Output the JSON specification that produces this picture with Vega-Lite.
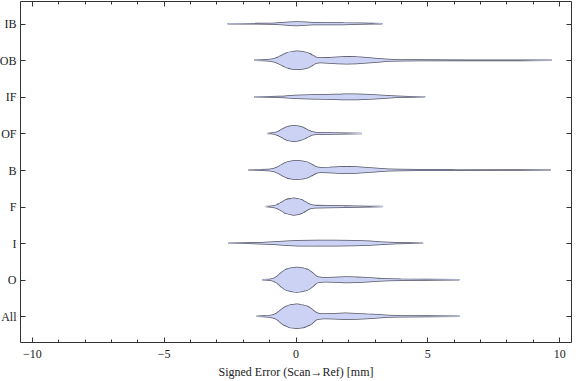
{
  "$schema": "https://vega.github.io/schema/vega-lite/v6.json",
  "width": 551,
  "height": 341,
  "autosize": {"type": "none"},
  "padding": {"left": 20, "top": 1, "right": 5, "bottom": 39},
  "background": "white",
  "data": {"values": [
    {"g":"IB","x":-2.56,"d":0},{"g":"IB","x":-1.5,"d":0.01},{"g":"IB","x":-0.9,"d":0.03},{"g":"IB","x":-0.5,"d":0.09},{"g":"IB","x":-0.2,"d":0.15},{"g":"IB","x":0.05,"d":0.18},{"g":"IB","x":0.35,"d":0.14},{"g":"IB","x":0.7,"d":0.09},{"g":"IB","x":1.2,"d":0.08},{"g":"IB","x":1.8,"d":0.07},{"g":"IB","x":2.4,"d":0.04},{"g":"IB","x":2.9,"d":0.015},{"g":"IB","x":3.28,"d":0},
    {"g":"OB","x":-1.55,"d":0},{"g":"OB","x":-1.2,"d":0.03},{"g":"OB","x":-0.95,"d":0.08},{"g":"OB","x":-0.85,"d":0.13},{"g":"OB","x":-0.75,"d":0.2},{"g":"OB","x":-0.65,"d":0.29},{"g":"OB","x":-0.55,"d":0.4},{"g":"OB","x":-0.45,"d":0.52},{"g":"OB","x":-0.35,"d":0.65},{"g":"OB","x":-0.25,"d":0.76},{"g":"OB","x":-0.15,"d":0.84},{"g":"OB","x":-0.05,"d":0.89},{"g":"OB","x":0.09,"d":0.9},{"g":"OB","x":0.25,"d":0.86},{"g":"OB","x":0.35,"d":0.8},{"g":"OB","x":0.45,"d":0.69},{"g":"OB","x":0.55,"d":0.56},{"g":"OB","x":0.65,"d":0.42},{"g":"OB","x":0.75,"d":0.3},{"g":"OB","x":0.85,"d":0.25},{"g":"OB","x":0.95,"d":0.23},{"g":"OB","x":1.3,"d":0.26},{"g":"OB","x":1.6,"d":0.31},{"g":"OB","x":1.95,"d":0.35},{"g":"OB","x":2.3,"d":0.32},{"g":"OB","x":2.7,"d":0.25},{"g":"OB","x":3.1,"d":0.16},{"g":"OB","x":3.5,"d":0.08},{"g":"OB","x":3.9,"d":0.04},{"g":"OB","x":4.7,"d":0.025},{"g":"OB","x":6.5,"d":0.015},{"g":"OB","x":8.5,"d":0.01},{"g":"OB","x":9.7,"d":0},
    {"g":"IF","x":-1.55,"d":0},{"g":"IF","x":-0.9,"d":0.015},{"g":"IF","x":-0.4,"d":0.06},{"g":"IF","x":0,"d":0.13},{"g":"IF","x":0.6,"d":0.18},{"g":"IF","x":1.2,"d":0.22},{"g":"IF","x":1.8,"d":0.26},{"g":"IF","x":2.3,"d":0.27},{"g":"IF","x":2.8,"d":0.22},{"g":"IF","x":3.3,"d":0.13},{"g":"IF","x":3.8,"d":0.05},{"g":"IF","x":4.3,"d":0.015},{"g":"IF","x":4.9,"d":0},
    {"g":"OF","x":-1.05,"d":0},{"g":"OF","x":-0.95,"d":0.015},{"g":"OF","x":-0.85,"d":0.04},{"g":"OF","x":-0.75,"d":0.1},{"g":"OF","x":-0.65,"d":0.18},{"g":"OF","x":-0.55,"d":0.3},{"g":"OF","x":-0.45,"d":0.44},{"g":"OF","x":-0.35,"d":0.57},{"g":"OF","x":-0.25,"d":0.68},{"g":"OF","x":-0.15,"d":0.75},{"g":"OF","x":-0.04,"d":0.77},{"g":"OF","x":0.1,"d":0.72},{"g":"OF","x":0.2,"d":0.64},{"g":"OF","x":0.3,"d":0.52},{"g":"OF","x":0.4,"d":0.38},{"g":"OF","x":0.5,"d":0.26},{"g":"OF","x":0.6,"d":0.16},{"g":"OF","x":0.7,"d":0.11},{"g":"OF","x":0.8,"d":0.08},{"g":"OF","x":1.3,"d":0.05},{"g":"OF","x":1.9,"d":0.03},{"g":"OF","x":2.49,"d":0},
    {"g":"B","x":-1.77,"d":0},{"g":"B","x":-1.3,"d":0.02},{"g":"B","x":-1.0,"d":0.06},{"g":"B","x":-0.9,"d":0.1},{"g":"B","x":-0.8,"d":0.16},{"g":"B","x":-0.7,"d":0.25},{"g":"B","x":-0.6,"d":0.36},{"g":"B","x":-0.5,"d":0.49},{"g":"B","x":-0.4,"d":0.62},{"g":"B","x":-0.3,"d":0.74},{"g":"B","x":-0.2,"d":0.84},{"g":"B","x":-0.1,"d":0.9},{"g":"B","x":0.09,"d":0.93},{"g":"B","x":0.25,"d":0.88},{"g":"B","x":0.35,"d":0.82},{"g":"B","x":0.45,"d":0.71},{"g":"B","x":0.55,"d":0.58},{"g":"B","x":0.65,"d":0.44},{"g":"B","x":0.75,"d":0.32},{"g":"B","x":0.85,"d":0.26},{"g":"B","x":0.95,"d":0.23},{"g":"B","x":1.3,"d":0.24},{"g":"B","x":1.6,"d":0.29},{"g":"B","x":1.95,"d":0.33},{"g":"B","x":2.3,"d":0.3},{"g":"B","x":2.7,"d":0.23},{"g":"B","x":3.1,"d":0.15},{"g":"B","x":3.5,"d":0.08},{"g":"B","x":3.9,"d":0.04},{"g":"B","x":4.6,"d":0.025},{"g":"B","x":6,"d":0.015},{"g":"B","x":8.5,"d":0.01},{"g":"B","x":9.66,"d":0},
    {"g":"F","x":-1.11,"d":0},{"g":"F","x":-1.0,"d":0.015},{"g":"F","x":-0.9,"d":0.04},{"g":"F","x":-0.8,"d":0.09},{"g":"F","x":-0.7,"d":0.16},{"g":"F","x":-0.6,"d":0.27},{"g":"F","x":-0.5,"d":0.4},{"g":"F","x":-0.4,"d":0.54},{"g":"F","x":-0.3,"d":0.68},{"g":"F","x":-0.2,"d":0.77},{"g":"F","x":-0.07,"d":0.83},{"g":"F","x":0.05,"d":0.79},{"g":"F","x":0.15,"d":0.7},{"g":"F","x":0.25,"d":0.57},{"g":"F","x":0.35,"d":0.43},{"g":"F","x":0.45,"d":0.3},{"g":"F","x":0.55,"d":0.2},{"g":"F","x":0.65,"d":0.14},{"g":"F","x":0.75,"d":0.11},{"g":"F","x":1.2,"d":0.08},{"g":"F","x":1.8,"d":0.07},{"g":"F","x":2.3,"d":0.04},{"g":"F","x":2.8,"d":0.02},{"g":"F","x":3.28,"d":0},
    {"g":"I","x":-2.53,"d":0},{"g":"I","x":-1.8,"d":0.015},{"g":"I","x":-1.3,"d":0.05},{"g":"I","x":-0.8,"d":0.12},{"g":"I","x":-0.3,"d":0.2},{"g":"I","x":0.1,"d":0.25},{"g":"I","x":0.8,"d":0.27},{"g":"I","x":1.5,"d":0.26},{"g":"I","x":2.2,"d":0.24},{"g":"I","x":2.8,"d":0.18},{"g":"I","x":3.3,"d":0.1},{"g":"I","x":3.8,"d":0.04},{"g":"I","x":4.3,"d":0.015},{"g":"I","x":4.82,"d":0},
    {"g":"O","x":-1.24,"d":0},{"g":"O","x":-1.0,"d":0.03},{"g":"O","x":-0.9,"d":0.08},{"g":"O","x":-0.8,"d":0.16},{"g":"O","x":-0.7,"d":0.28},{"g":"O","x":-0.6,"d":0.43},{"g":"O","x":-0.5,"d":0.6},{"g":"O","x":-0.4,"d":0.78},{"g":"O","x":-0.3,"d":0.95},{"g":"O","x":-0.2,"d":1.09},{"g":"O","x":-0.1,"d":1.18},{"g":"O","x":0.05,"d":1.23},{"g":"O","x":0.2,"d":1.17},{"g":"O","x":0.3,"d":1.09},{"g":"O","x":0.4,"d":0.95},{"g":"O","x":0.5,"d":0.78},{"g":"O","x":0.6,"d":0.6},{"g":"O","x":0.7,"d":0.43},{"g":"O","x":0.8,"d":0.31},{"g":"O","x":0.9,"d":0.24},{"g":"O","x":1.05,"d":0.21},{"g":"O","x":1.2,"d":0.2},{"g":"O","x":1.5,"d":0.23},{"g":"O","x":1.9,"d":0.27},{"g":"O","x":2.3,"d":0.24},{"g":"O","x":2.7,"d":0.19},{"g":"O","x":3.1,"d":0.13},{"g":"O","x":3.5,"d":0.08},{"g":"O","x":4.0,"d":0.04},{"g":"O","x":5.0,"d":0.02},{"g":"O","x":6.2,"d":0},
    {"g":"All","x":-1.46,"d":0},{"g":"All","x":-1.2,"d":0.02},{"g":"All","x":-1.0,"d":0.06},{"g":"All","x":-0.9,"d":0.11},{"g":"All","x":-0.8,"d":0.18},{"g":"All","x":-0.7,"d":0.28},{"g":"All","x":-0.6,"d":0.42},{"g":"All","x":-0.5,"d":0.58},{"g":"All","x":-0.4,"d":0.76},{"g":"All","x":-0.3,"d":0.93},{"g":"All","x":-0.2,"d":1.06},{"g":"All","x":-0.1,"d":1.15},{"g":"All","x":0.05,"d":1.2},{"g":"All","x":0.2,"d":1.14},{"g":"All","x":0.3,"d":1.06},{"g":"All","x":0.4,"d":0.93},{"g":"All","x":0.5,"d":0.76},{"g":"All","x":0.6,"d":0.58},{"g":"All","x":0.7,"d":0.43},{"g":"All","x":0.8,"d":0.32},{"g":"All","x":0.9,"d":0.26},{"g":"All","x":1.05,"d":0.23},{"g":"All","x":1.2,"d":0.22},{"g":"All","x":1.5,"d":0.25},{"g":"All","x":1.9,"d":0.3},{"g":"All","x":2.3,"d":0.26},{"g":"All","x":2.7,"d":0.21},{"g":"All","x":3.1,"d":0.15},{"g":"All","x":3.5,"d":0.08},{"g":"All","x":4.0,"d":0.04},{"g":"All","x":5.0,"d":0.02},{"g":"All","x":6.2,"d":0}
  ]},
  "layer": [
    {
      "mark": {"type": "trail", "color": "#555566", "opacity": 1},
      "encoding": {
        "x": {"field": "x", "type": "quantitative",
          "scale": {"domain": [-10.45, 10.45], "nice": false, "zero": false},
          "axis": {"orient": "bottom", "values": [-10,-9,-8,-7,-6,-5,-4,-3,-2,-1,0,1,2,3,4,5,6,7,8,9,10],
            "domain": false, "grid": false, "tickColor": "#333",
            "tickSize": {"condition": {"test": "datum.value % 5 === 0", "value": -5}, "value": -3},
            "labelExpr": "datum.value % 5 === 0 ? datum.label : ''",
            "labelOverlap": false, "labelFlush": false, "labelPadding": 11,
            "labelFont": "Liberation Serif, Times New Roman, serif", "labelFontSize": 12, "labelColor": "#222",
            "title": "Signed Error (Scan→Ref) [mm]", "titleFont": "Liberation Serif, Times New Roman, serif", "titleFontSize": 12,
            "titleFontWeight": "normal", "titleColor": "#222", "titlePadding": 5}},
        "y": {"field": "g", "type": "nominal",
          "scale": {"type": "point", "padding": 0, "domain": ["IB","OB","IF","OF","B","F","I","O","All"], "range": [22.7, 315.3]},
          "axis": {"orient": "left", "domain": false, "grid": false, "tickColor": "#333", "tickSize": -5,
            "labelPadding": 9, "labelFont": "Liberation Serif, Times New Roman, serif", "labelFontSize": 12, "labelColor": "#222", "title": null}},
        "detail": {"field": "g"},
        "size": {"field": "d", "type": "quantitative", "scale": {"domain": [0, 1.25], "range": [1.5, 26.5]}, "legend": null}
      }
    },
    {
      "mark": {"type": "trail", "color": "#cbd2f3", "opacity": 1},
      "encoding": {
        "x": {"field": "x", "type": "quantitative",
          "scale": {"domain": [-10.45, 10.45], "nice": false, "zero": false},
          "axis": {"orient": "top", "values": [-10,-9,-8,-7,-6,-5,-4,-3,-2,-1,0,1,2,3,4,5,6,7,8,9,10],
            "domain": false, "grid": false, "labels": false, "title": null, "tickColor": "#333",
            "tickSize": {"condition": {"test": "datum.value % 5 === 0", "value": -5}, "value": -3}}},
        "y": {"field": "g", "type": "nominal",
          "scale": {"type": "point", "padding": 0, "domain": ["IB","OB","IF","OF","B","F","I","O","All"], "range": [22.7, 315.3]},
          "axis": {"orient": "right", "domain": false, "grid": false, "labels": false, "title": null, "tickColor": "#333", "tickSize": -5}},
        "detail": {"field": "g"},
        "size": {"field": "d", "type": "quantitative", "scale": {"domain": [0, 1.25], "range": [0, 25]}, "legend": null}
      }
    }
  ],
  "resolve": {"scale": {"size": "independent"}, "axis": {"x": "independent", "y": "independent"}},
  "config": {"font": "Liberation Serif, Times New Roman, serif", "view": {"stroke": "#333", "strokeWidth": 1}}
}
